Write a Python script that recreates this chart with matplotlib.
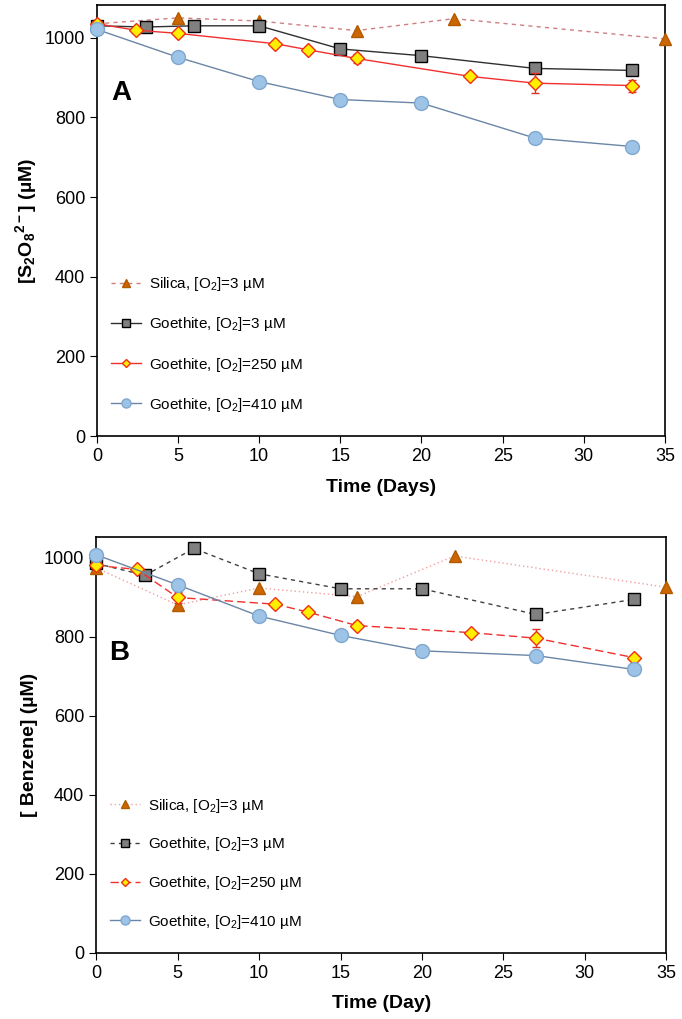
import numpy as np
import matplotlib.pyplot as plt
from matplotlib.lines import Line2D

plt.rcParams['font.family'] = ['Liberation Sans', 'DejaVu Sans']
plt.rcParams['mathtext.default'] = 'regular'

# Panel A : persulfate
a_sil_t = [0, 5, 10, 16, 22, 35]
a_sil_c = [1035, 1050, 1042, 1018, 1048, 997]
a_g3_t = [0, 3, 6, 10, 15, 20, 27, 33]
a_g3_c = [1030, 1027, 1030, 1030, 972, 955, 923, 918]
a_g250_t = [0, 2.4, 5, 11, 13, 16, 23, 27, 33]
a_g250_c = [1035, 1019, 1011, 985, 970, 948, 903, 886, 880]
a_g250_e = [5, 8, 6, 6, 6, 12, 6, 25, 15]
a_g410_t = [0, 5, 10, 15, 20, 27, 33]
a_g410_c = [1021, 951, 890, 845, 836, 748, 727]
a_g410_e = [6, 6, 6, 6, 8, 6, 12]

# Panel B : benzene
b_sil_t = [0, 5, 10, 16, 22, 35]
b_sil_c = [974, 880, 923, 901, 1004, 925]
b_g3_t = [0, 3, 6, 10, 15, 20, 27, 33]
b_g3_c = [985, 955, 1023, 959, 921, 921, 856, 894]
b_g250_t = [0, 2.5, 5, 11, 13, 16, 23, 27, 33]
b_g250_c = [980, 970, 899, 882, 862, 828, 810, 796, 747]
b_g250_e = [8, 6, 15, 6, 6, 8, 6, 22, 6]
b_g410_t = [0, 5, 10, 15, 20, 27, 33]
b_g410_c = [1007, 931, 852, 803, 764, 752, 717]
b_g410_e = [6, 6, 6, 6, 6, 10, 8]

labels = ['Silica, [O$_2$]=3 µM', 'Goethite, [O$_2$]=3 µM',
          'Goethite, [O$_2$]=250 µM', 'Goethite, [O$_2$]=410 µM']

fig = plt.figure(figsize=(6.82, 10.19), dpi=100)
ax1 = fig.add_axes([0.142, 0.572, 0.833, 0.423])
ax2 = fig.add_axes([0.141, 0.065, 0.836, 0.408])

mk = [dict(marker='^', ms=9, mfc='#CC6600', mec='#B35900'),
      dict(marker='s', ms=9, mfc='#808080', mec='black'),
      dict(marker='D', ms=7, mfc='#FFEE00', mec='#F03010'),
      dict(marker='o', ms=10, mfc='#9DC3E6', mec='#7FA7D0')]


def panel(ax, sil, g3, g250, g410, styles, ymax, letter, ylab, xlab, ltxt, lspace):
    ax.errorbar(g250[0], g250[1], yerr=g250[2], fmt='none', ecolor='#E03020',
                elinewidth=1, capsize=3, clip_on=False, zorder=4.5)
    ax.errorbar(g410[0], g410[1], yerr=g410[2], fmt='none', ecolor='#5A7FA8',
                elinewidth=1, capsize=3, clip_on=False, zorder=5.5)
    handles = []
    for i, (t, c) in enumerate([sil, g3, g250[:2], g410[:2]]):
        ax.plot(t, c, linestyle=styles[i][0], color=styles[i][1], lw=1,
                clip_on=False, zorder=3 + i, **mk[i])
        h = dict(mk[i])
        h['ms'] = h['ms'] * 0.65
        handles.append(Line2D([], [], linestyle=styles[i][0], color=styles[i][1], lw=1, **h))
    ax.set_xlim(0, 35)
    ax.set_ylim(0, ymax)
    ax.set_xticks(range(0, 36, 5))
    ax.set_yticks(range(0, 1001, 200))
    ax.tick_params(direction='out', length=5, labelsize=13, top=False, right=False)
    ax.set_xlabel(xlab, fontsize=14, fontweight='bold', labelpad=10)
    ax.set_ylabel(ylab, fontsize=14, fontweight='bold')
    ax.text(ltxt[0], ltxt[1], letter, transform=ax.transAxes, fontsize=20, fontweight='bold')
    ax.legend(handles, labels, loc='lower left', bbox_to_anchor=(0.0, 0.02), frameon=False,
              fontsize=11, labelspacing=lspace, handlelength=2.0, handletextpad=0.5)
    for sp in ax.spines.values():
        sp.set_linewidth(1.2)


panel(ax1, (a_sil_t, a_sil_c), (a_g3_t, a_g3_c), (a_g250_t, a_g250_c, a_g250_e),
      (a_g410_t, a_g410_c, a_g410_e),
      [((0, (3, 3)), '#D08080'), ('-', '#303030'), ('-', '#F03030'), ('-', '#6A86A6')],
      1082, 'A', '[S$_2$O$_8$$^{2-}$] (µM)', 'Time (Days)', (0.025, 0.78), 1.45)
panel(ax2, (b_sil_t, b_sil_c), (b_g3_t, b_g3_c), (b_g250_t, b_g250_c, b_g250_e),
      (b_g410_t, b_g410_c, b_g410_e),
      [((0, (1, 2)), '#F0A0A0'), ((0, (3, 3)), '#404040'), ((0, (6, 3)), '#F03030'), ('-', '#6A86A6')],
      1052, 'B', '[ Benzene] (µM)', 'Time (Day)', (0.023, 0.705), 1.35)

fig.savefig('out.png', dpi=100)
